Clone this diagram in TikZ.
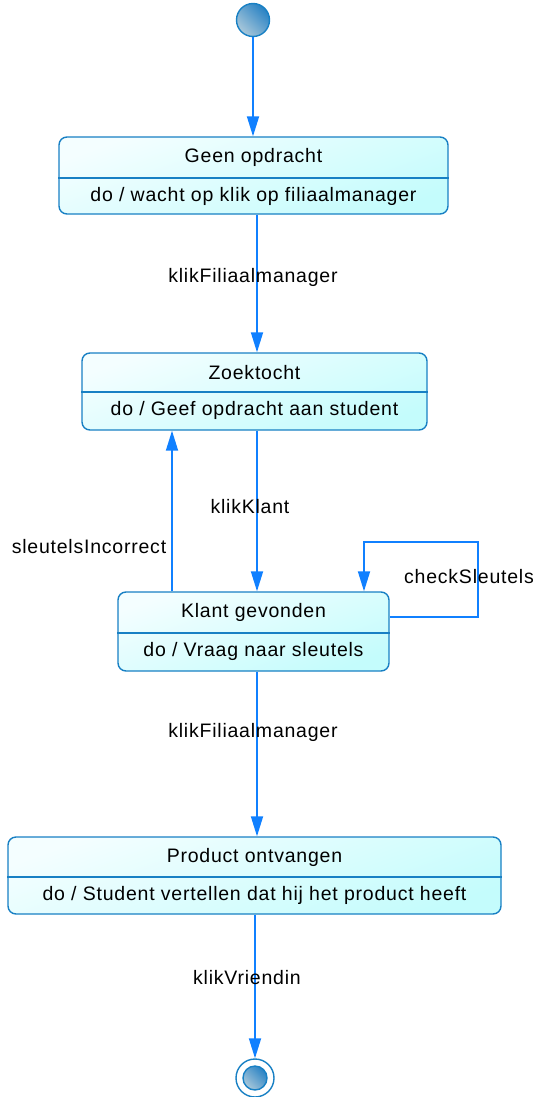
\documentclass[tikz,border=0pt]{standalone}
\usepackage{fontspec}
\setmainfont[LetterSpace=4]{Liberation Sans}
\usetikzlibrary{arrows.meta}
\definecolor{flow}{RGB}{16,128,255}
\definecolor{edge}{RGB}{24,128,196}
\definecolor{paletop}{RGB}{244,254,255}
\definecolor{palebot}{RGB}{196,252,252}
\definecolor{dotlight}{RGB}{170,200,218}
\definecolor{dotdark}{RGB}{40,130,196}
\tikzset{
  statebox/.style={draw=edge, line width=1.4pt, rounded corners=8pt,
    top color=paletop, bottom color=palebot, shading angle=20, inner sep=0pt},
  divider/.style={draw=edge, line width=1.4pt},
  txt/.style={inner sep=0pt, font=\fontsize{19.5}{23}\selectfont},
  flowline/.style={draw=flow, line width=1.8pt,
    -{Triangle[length=20pt,width=12pt]}},
  dot/.style={circle, draw=edge, line width=1.4pt, inner sep=0pt,
    left color=dotlight, right color=dotdark, shading angle=135}
}
\begin{document}
\begin{tikzpicture}[x=1pt,y=-1pt]
\useasboundingbox (0,0) rectangle (536,1097);

% start and end markers
\node[dot, minimum size=33pt] (start) at (253,20) {};
\node[circle, draw=edge, line width=1.4pt, fill=white, minimum size=38pt, inner sep=0pt] (stop) at (255,1078) {};
\node[dot, minimum size=24pt] (stopin) at (255,1078) {};

% states: box, divider, title, activity
\node[statebox, minimum width=389pt, minimum height=77pt] (b1) at (253.5,175.5) {};
\draw[divider] (b1.west |- 0,178) -- (b1.east |- 0,178);
\node[txt] (b1t) at (253.5,157.5) {Geen opdracht};
\node[txt] (b1d) at (253.5,196) {do / wacht op klik op filiaalmanager};

\node[statebox, minimum width=345pt, minimum height=77pt] (b2) at (254.5,391.5) {};
\draw[divider] (b2.west |- 0,392) -- (b2.east |- 0,392);
\node[txt] (b2t) at (254.5,373) {Zoektocht};
\node[txt] (b2d) at (254.5,410.5) {do / Geef opdracht aan student};

\node[statebox, minimum width=271pt, minimum height=79pt] (b3) at (253.5,631.5) {};
\draw[divider] (b3.west |- 0,633) -- (b3.east |- 0,633);
\node[txt] (b3t) at (253.5,612) {Klant gevonden};
\node[txt] (b3d) at (253.5,651.5) {do / Vraag naar sleutels};

\node[statebox, minimum width=493pt, minimum height=77pt] (b4) at (254.5,875.5) {};
\draw[divider] (b4.west |- 0,877) -- (b4.east |- 0,877);
\node[txt] (b4t) at (254.5,857) {Product ontvangen};
\node[txt] (b4d) at (254.5,895.5) {do / Student vertellen dat hij het product heeft};

% transitions
\draw[flowline] (start.south) -- (start.south |- b1.north);
\draw[flowline] ([xshift=3.5pt]b1.south) -- ([xshift=3.5pt]b1.south |- b2.north);
\draw[flowline] ([xshift=2.5pt]b2.south) -- ([xshift=2.5pt]b2.south |- b3.north);
\draw[flowline] ([xshift=-81.5pt]b3.north) -- ([xshift=-81.5pt]b3.north |- b2.south);
\coordinate (loopa) at (478,617);
\coordinate (loopb) at (478,542);
\coordinate (loopc) at (364,542);
\draw[flowline] (b3.east |- loopa) -- (loopa) -- (loopb) -- (loopc) -- (loopc |- b3.north);
\draw[flowline] ([xshift=3.5pt]b3.south) -- ([xshift=3.5pt]b3.south |- b4.north);
\draw[flowline] (stop.north |- b4.south) -- (stop.north);

% transition labels
\node[txt] (l1) at (253,277) {klikFiliaalmanager};
\node[txt] (l2) at (250,507) {klikKlant};
\node[txt] (l3) at (89,547) {sleutelsIncorrect};
\node[txt] (l4) at (469,577) {checkSleutels};
\node[txt] (l5) at (253,732) {klikFiliaalmanager};
\node[txt] (l6) at (247,978) {klikVriendin};
\end{tikzpicture}
\end{document}
